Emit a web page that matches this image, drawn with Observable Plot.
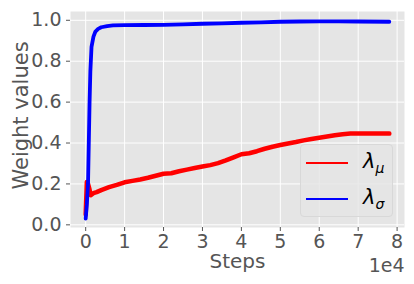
<!DOCTYPE html>
<html>
<head>
<meta charset="utf-8">
<script src="https://cdn.jsdelivr.net/npm/d3@7"></script>
<script src="https://cdn.jsdelivr.net/npm/@observablehq/plot@0.6"></script>
<style>
  body { margin: 0; background: white; }
  #wrap { position: relative; width: 414px; height: 284px; font-family: "DejaVu Sans", sans-serif; }
  #legend { position: absolute; left: 300px; top: 144px; width: 93px; height: 73px; box-sizing: border-box;
    background: rgba(229,229,229,0.8); border: 1px solid #d8d8d8; border-radius: 4px; }
  .row { position: absolute; left: 0; width: 92px; height: 30px; }
  .sw { position: absolute; left: 5px; width: 42px; height: 0; border-top: 2px solid; }
  .lab { position: absolute; left: 62px; font-style: italic; font-size: 21px; color: #000; line-height: 20px; }
  .lab sub { font-size: 14px; vertical-align: -5px; }
</style>
</head>
<body>
<div id="wrap"></div>
<script>
// lambda_mu (red)
const muSteps  = [0, 300, 600, 900, 1300, 2000, 2800, 4000, 6000, 8000, 10000, 12000, 14000, 16000, 18000, 20000, 22000, 24000, 26000, 28000, 30000, 32000, 34000, 36000, 38000, 40000, 42000, 44000, 46000, 48000, 50000, 52000, 54000, 56000, 58000, 60000, 62000, 64000, 66000, 68000, 70000, 74000, 78000];
const muValues = [0.05, 0.21, 0.20, 0.18, 0.145, 0.155, 0.16, 0.17, 0.184, 0.195, 0.208, 0.215, 0.222, 0.230, 0.240, 0.250, 0.252, 0.262, 0.270, 0.278, 0.285, 0.292, 0.302, 0.315, 0.330, 0.345, 0.350, 0.360, 0.372, 0.382, 0.390, 0.398, 0.405, 0.413, 0.420, 0.426, 0.432, 0.438, 0.443, 0.446, 0.447, 0.447, 0.446];
// lambda_sigma (blue)
const sigmaSteps  = [0, 300, 600, 800, 1000, 1200, 1500, 2000, 2500, 3200, 4000, 5500, 7000, 10000, 15000, 20000, 25000, 30000, 35000, 40000, 45000, 50000, 55000, 60000, 65000, 70000, 78000];
const sigmaValues = [0.03, 0.10, 0.20, 0.40, 0.60, 0.75, 0.87, 0.92, 0.945, 0.958, 0.966, 0.972, 0.975, 0.976, 0.977, 0.978, 0.980, 0.983, 0.985, 0.988, 0.990, 0.993, 0.994, 0.995, 0.995, 0.994, 0.993];
const xTicks = [0, 10000, 20000, 30000, 40000, 50000, 60000, 70000, 80000];
const yTicks = [0, 0.2, 0.4, 0.6, 0.8, 1.0];
const seriesNames = ["λ", "λ"];
const seriesSubs = ["μ", "σ"];
const seriesColors = ["#ff0000", "#0000ff"];

const plot = Plot.plot({
  width: 414, height: 284,
  marginLeft: 70, marginRight: 10, marginTop: 11, marginBottom: 57,
  style: { fontFamily: "DejaVu Sans, sans-serif", fontSize: "18px", color: "#555555", background: "white" },
  x: { domain: [-3900, 81900] },
  y: { domain: [-0.013, 1.043] },
  marks: [
    Plot.frame({ fill: "#E5E5E5", stroke: null }),
    Plot.gridX(xTicks, { stroke: "white", strokeOpacity: 1, strokeWidth: 1 }),
    Plot.gridY(yTicks, { stroke: "white", strokeOpacity: 1, strokeWidth: 1 }),
    Plot.axisX(xTicks, { tickFormat: d => String(d / 1e4), tickSize: 4, tickPadding: 3, fontSize: 19, label: null }),
    Plot.axisY(yTicks, { tickFormat: d3.format(".1f"), tickSize: 4, tickPadding: 5, fontSize: 19, label: null }),
    Plot.line({ length: muSteps.length }, { x: muSteps, y: muValues, stroke: seriesColors[0], strokeWidth: 4.5, strokeLinejoin: "round" }),
    Plot.line({ length: sigmaSteps.length }, { x: sigmaSteps, y: sigmaValues, stroke: seriesColors[1], strokeWidth: 3.8, strokeLinejoin: "round" }),
    Plot.text(["Steps"], { frameAnchor: "bottom", textAnchor: "middle", lineAnchor: "middle", dy: 34, fontSize: 20, fill: "#555555" }),
    Plot.text(["1e4"], { frameAnchor: "bottom-right", textAnchor: "end", lineAnchor: "middle", dy: 38, fontSize: 19, fill: "#555555" }),
    Plot.text(["Weight values"], { frameAnchor: "left", textAnchor: "middle", rotate: -90, lineAnchor: "middle", dx: -49, dy: -4, fontSize: 21, fill: "#555555" })
  ]
});
const wrap = document.getElementById("wrap");
wrap.appendChild(plot);

const legend = document.createElement("div");
legend.id = "legend";
seriesNames.forEach((n, i) => {
  const row = document.createElement("div");
  row.className = "row";
  row.style.top = (i * 36 + 2) + "px";
  row.innerHTML = `<div class="sw" style="top:15px;border-color:${seriesColors[i]}"></div><div class="lab" style="top:4px">${n}<sub>${seriesSubs[i]}</sub></div>`;
  legend.appendChild(row);
});
wrap.appendChild(legend);
</script>
</body>
</html>
